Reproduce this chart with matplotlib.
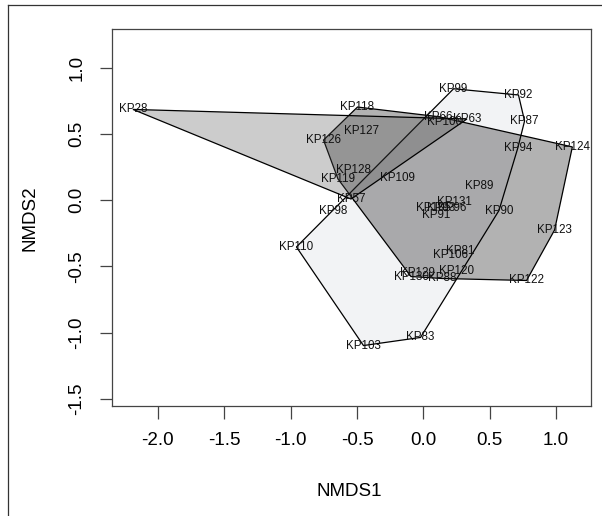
import matplotlib
matplotlib.use("Agg")
from matplotlib import pyplot as plt
from matplotlib.lines import Line2D
import numpy as np

plt.rcParams['font.family'] = ['Liberation Sans', 'DejaVu Sans']

# NMDS site scores
sites = ['KP28', 'KP118', 'KP126', 'KP127', 'KP128', 'KP119', 'KP109', 'KP57',
         'KP98', 'KP110', 'KP103', 'KP83', 'KP130', 'KP129', 'KP88', 'KP120',
         'KP106', 'KP81', 'KP122', 'KP123', 'KP124', 'KP90', 'KP89', 'KP94',
         'KP87', 'KP92', 'KP99', 'KP66', 'KP100', 'KP63', 'KP131', 'KP105',
         'KP93', 'KP96', 'KP91']
nmds1 = [-2.188, -0.496, -0.752, -0.467, -0.526, -0.643, -0.194, -0.545,
         -0.677, -0.956, -0.451, -0.021, -0.093, -0.047, 0.141, 0.250,
         0.203, 0.279, 0.778, 0.989, 1.123, 0.570, 0.423, 0.712,
         0.763, 0.717, 0.228, 0.116, 0.156, 0.329, 0.233, 0.075,
         0.133, 0.214, 0.094]
nmds2 = [0.685, 0.703, 0.454, 0.525, 0.228, 0.160, 0.170, 0.009,
         -0.082, -0.353, -1.097, -1.036, -0.576, -0.553, -0.591, -0.534,
         -0.417, -0.386, -0.606, -0.225, 0.402, -0.078, 0.107, 0.394,
         0.598, 0.794, 0.841, 0.630, 0.588, 0.613, -0.011, -0.061,
         -0.059, -0.061, -0.112]

# group membership for the hulls
group_a = ['KP28', 'KP63', 'KP57', 'KP127', 'KP128']
group_b = ['KP118', 'KP66', 'KP124', 'KP123', 'KP122', 'KP88', 'KP130', 'KP119',
           'KP126', 'KP109', 'KP89', 'KP131', 'KP129', 'KP120']
group_c = ['KP99', 'KP92', 'KP87', 'KP94', 'KP90', 'KP83', 'KP103', 'KP110',
           'KP98', 'KP100', 'KP81', 'KP106', 'KP105', 'KP93', 'KP96', 'KP91']

xticks = [-2.0, -1.5, -1.0, -0.5, 0.0, 0.5, 1.0]
yticks = [-1.5, -1.0, -0.5, 0.0, 0.5, 1.0]


def hull(names):
    pts = sorted((nmds1[sites.index(n)], nmds2[sites.index(n)]) for n in names)

    def cross(o, a, b):
        return (a[0] - o[0]) * (b[1] - o[1]) - (a[1] - o[1]) * (b[0] - o[0])

    lower, upper = [], []
    for p in pts:
        while len(lower) >= 2 and cross(lower[-2], lower[-1], p) <= 0:
            lower.pop()
        lower.append(p)
    for p in reversed(pts):
        while len(upper) >= 2 and cross(upper[-2], upper[-1], p) <= 0:
            upper.pop()
        upper.append(p)
    h = np.array(lower[:-1] + upper[:-1])
    return h[:, 0], h[:, 1]


fig = plt.figure(figsize=(6.02, 5.16), dpi=100)
ax = fig.add_axes([0.18555, 0.21376, 0.79585, 0.73004])

hx, hy = hull(group_c)
ax.fill(hx, hy, facecolor='#F2F3F5', edgecolor='black', linewidth=0.9, zorder=2)
hx, hy = hull(group_b)
ax.fill(hx, hy, facecolor=(0, 0, 0, 0.30), edgecolor='black', linewidth=0.9, zorder=3)
hx, hy = hull(group_a)
ax.fill(hx, hy, facecolor=(80/255, 80/255, 80/255, 0.286), edgecolor='black', linewidth=0.9, zorder=4)

for x, y, s in zip(nmds1, nmds2, sites):
    ax.text(x, y, s, ha='center', va='center', fontsize=8.4, color='#111111', zorder=5)

ax.set_xlim(-2.348, 1.262)
ax.set_ylim(-1.551, 1.292)
ax.set_xticks(xticks)
ax.set_yticks(yticks)
ax.set_xticklabels([f'{v:.1f}' for v in xticks])
ax.set_yticklabels([f'{v:.1f}' for v in yticks], rotation=90, va='center')
ax.tick_params(length=9, width=0.9, color='#444444', labelsize=13.5, pad=10)
for sp in ax.spines.values():
    sp.set_color('#444444')
    sp.set_linewidth(0.9)

fig.text(0.58, 1 - 492 / 516, 'NMDS1', ha='center', va='center', fontsize=13.5)
fig.text(30 / 602, 1 - 218 / 516, 'NMDS2', ha='center', va='center', fontsize=13.5, rotation=90)

# outer device frame (left and top edges)
fig.add_artist(Line2D([8 / 602, 8 / 602], [0, 1 - 5 / 516], transform=fig.transFigure, color='#333333', lw=0.9))
fig.add_artist(Line2D([8 / 602, 1], [1 - 5 / 516, 1 - 5 / 516], transform=fig.transFigure, color='#333333', lw=0.9))

fig.savefig('out.png', dpi=100)
